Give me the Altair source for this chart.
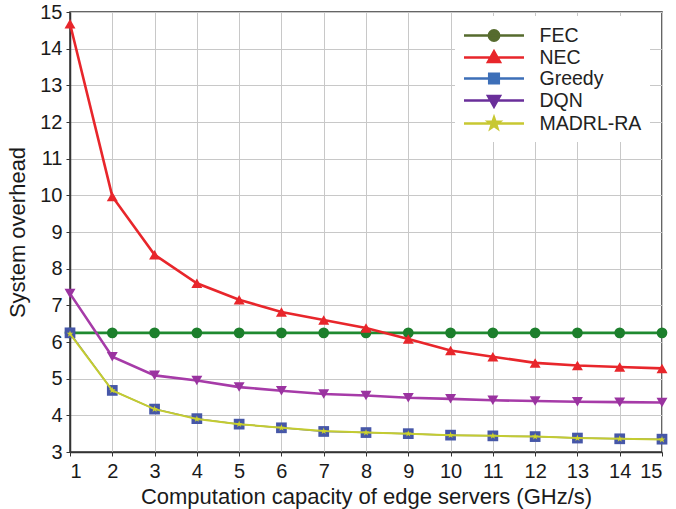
import altair as alt
import pandas as pd

# ---- data ----
capacity = list(range(1, 16))
series_names = ["FEC", "NEC", "Greedy", "DQN", "MADRL-RA"]
fec = [6.25] * 15
nec = [14.68, 9.97, 8.38, 7.60, 7.15, 6.82, 6.60, 6.38, 6.08, 5.77, 5.60, 5.43, 5.36, 5.32, 5.28]
greedy = [6.25, 4.68, 4.17, 3.91, 3.76, 3.66, 3.56, 3.53, 3.50, 3.46, 3.44, 3.42, 3.38, 3.36, 3.35]
dqn = [7.32, 5.60, 5.09, 4.95, 4.77, 4.67, 4.58, 4.54, 4.48, 4.45, 4.41, 4.39, 4.37, 4.36, 4.35]
madrl = [6.22, 4.68, 4.17, 3.90, 3.76, 3.66, 3.57, 3.53, 3.50, 3.46, 3.44, 3.42, 3.38, 3.36, 3.34]
y_ticks = list(range(3, 16))
x_ticks = capacity

values = {"FEC": fec, "NEC": nec, "Greedy": greedy, "DQN": dqn, "MADRL-RA": madrl}
rows = []
for name in series_names:
    for c, v in zip(capacity, values[name]):
        rows.append({"capacity": c, "overhead": v, "series": name})
df = pd.DataFrame(rows)

FONT = "Liberation Sans"

STAR = ("M0,-1L0.235,-0.324L0.951,-0.309L0.38,0.124L0.588,0.809L0,0.4"
        "L-0.588,0.809L-0.38,0.124L-0.951,-0.309L-0.235,-0.324Z")

# plot styles per series: (line colour, line width, marker colour, marker shape, size)
style = {
    "FEC": ("#1f8a30", 2.6, "#1c7f2c", "circle", 115),
    "NEC": ("#e8262b", 2.6, "#e8262b", "triangle-up", 120),
    "DQN": ("#a63ba8", 2.6, "#9a33a0", "triangle-down", 120),
    "Greedy": ("#707a9c", 1.5, "#4657a8", "square", 115),
    "MADRL-RA": ("#c4cc30", 2.0, "#cdd22a", STAR, 50),
}
draw_order = ["FEC", "NEC", "DQN", "Greedy", "MADRL-RA"]

x_enc = alt.X("capacity:Q", scale=alt.Scale(domain=[1, 15], nice=False),
              axis=alt.Axis(values=x_ticks, title="Computation capacity of edge servers (GHz/s)",
                            format="d", labelPadding=5, titlePadding=5))
y_enc = alt.Y("overhead:Q", scale=alt.Scale(domain=[3, 15], nice=False),
              axis=alt.Axis(values=y_ticks, title="System overhead", format="d",
                            labelPadding=4, titlePadding=10))

layers = []
for name in draw_order:
    lc, lw, mc, shp, sz = style[name]
    base = alt.Chart(df).transform_filter(alt.datum.series == name)
    layers.append(base.mark_line(color=lc, strokeWidth=lw).encode(x=x_enc, y=y_enc))
    layers.append(base.mark_point(filled=True, color=mc, shape=shp, size=sz, opacity=1)
                  .encode(x=x_enc, y=y_enc))

# legend (line + marker symbols)
legend_colors = ["#566b2e", "#e8262b", "#3d6fb8", "#6a2f9a", "#c8c832"]
LINE = "M-3,0H3"
legend_paths = [
    LINE + "M0.52,0A0.52,0.52 0 1,1 -0.52,0A0.52,0.52 0 1,1 0.52,0Z",
    LINE + "M0,-0.62L0.6,0.45L-0.6,0.45Z",
    LINE + "M-0.48,-0.48H0.48V0.48H-0.48Z",
    LINE + "M0,0.62L0.6,-0.45L-0.6,-0.45Z",
    LINE + "M0,-0.6L0.141,-0.194L0.571,-0.185L0.228,0.074L0.353,0.485L0,0.24"
           "L-0.353,0.485L-0.228,0.074L-0.571,-0.185L-0.141,-0.194Z",
]
leg = alt.Legend(title=None, orient="none", legendX=385, legendY=4,
                 fillColor="white", padding=8, symbolSize=400, symbolStrokeWidth=2.5,
                 symbolOffset=19.5, labelOffset=34, rowPadding=0,
                 labelFont=FONT, labelFontSize=19.5, labelColor="#222222")
legend_layer = alt.Chart(df).transform_filter("false").mark_point(filled=True, opacity=1).encode(
    shape=alt.Shape("series:N", scale=alt.Scale(domain=series_names, range=legend_paths), legend=leg),
    fill=alt.Fill("series:N", scale=alt.Scale(domain=series_names, range=legend_colors), legend=leg),
    stroke=alt.Stroke("series:N", scale=alt.Scale(domain=series_names, range=legend_colors), legend=leg),
)
layers.append(legend_layer)

chart = alt.layer(*layers).properties(
    width=592, height=440,
    padding={"left": 70, "top": 12, "right": 14, "bottom": 57},
    autosize="none", background="white",
).configure_view(stroke="#333333", strokeWidth=1.5).configure_axis(
    domainColor="#333333", domainWidth=1.5, tickColor="#333333", tickSize=4,
    gridColor="#c8c8c8", gridWidth=1,
    labelFont=FONT, labelFontSize=20, labelColor="#1a1a1a",
    titleFont=FONT, titleFontSize=22, titleFontWeight="normal", titleColor="#1a1a1a",
)

chart.save("out.html", embed_options={"renderer": "svg", "actions": False})
